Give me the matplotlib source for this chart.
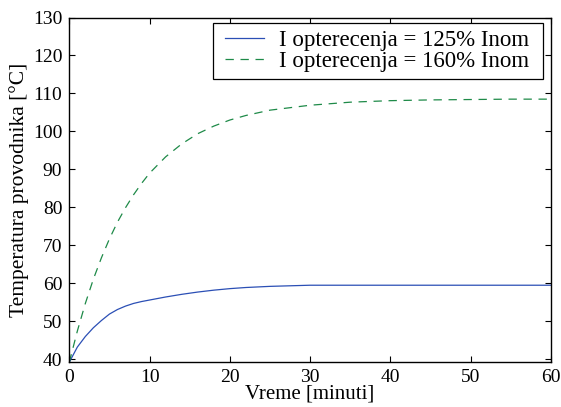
import matplotlib
matplotlib.use("Agg")
import matplotlib.pyplot as plt
from matplotlib.legend_handler import HandlerLine2D
from matplotlib.path import Path

plt.rcParams['font.family'] = ['Liberation Serif', 'DejaVu Serif']
plt.rcParams['lines.scale_dashes'] = False

# time in minutes
t = [0, 1, 2, 3, 4, 5, 6, 7, 8, 9, 10, 12, 14, 16, 18, 20, 22, 25,
     30, 35, 40, 45, 50, 55, 60]

# conductor temperature at 125% nominal load current
temp_125 = [39.2, 43.2, 46.0, 48.3, 50.2, 51.9, 53.1, 54.0, 54.7, 55.2, 55.6,
            56.4, 57.1, 57.7, 58.2, 58.6, 58.9, 59.2, 59.5, 59.5, 59.5,
            59.5, 59.5, 59.5, 59.5]

# conductor temperature at 160% nominal load current
temp_160 = [39.2, 47.4, 54.7, 61.1, 66.7, 71.7, 76.1, 79.9, 83.3, 86.3, 89.0,
            93.3, 96.7, 99.4, 101.4, 103.0, 104.2, 105.6, 106.9, 107.7, 108.1,
            108.3, 108.4, 108.5, 108.5]

labels = ['I opterecenja = 125% Inom', 'I opterecenja = 160% Inom']
xticks = [0, 10, 20, 30, 40, 50, 60]
yticks = [40, 50, 60, 70, 80, 90, 100, 110, 120, 130]

W, H = 561, 407
fig = plt.figure(figsize=(W / 100, H / 100), dpi=100)
ax = fig.add_axes([0.1235, 0.1098, 0.9820 - 0.1235, 0.957 - 0.1098])

l1, = ax.plot(t, temp_125, color='#2b4fb5', lw=0.9, label=labels[0])
l2, = ax.plot(t, temp_160, color='#1e8a48', lw=0.9, dashes=(6.0, 4.8),
              label=labels[1])

ax.set_xlim(0, 60)
ax.set_ylim(39.2, 130)
ax.set_xticks(xticks)
ax.set_yticks(yticks)
ax.tick_params(direction='in', top=True, right=True, length=4, width=0.8,
               labelsize=14, colors='black')
ax.tick_params(axis='x', pad=5)
ax.tick_params(axis='y', pad=5)
for s in ax.spines.values():
    s.set_linewidth(1.0)

ax.set_xlabel('Vreme [minuti]', fontsize=15, labelpad=-1.0)
ax.set_ylabel('Temperatura provodnika [°C]', fontsize=15.5, labelpad=3)


# legend frame with extra room on the right-hand side
RIGHT_EXTRA = 7.0


def wide_frame(x0, y0, width, height, mutation_size):
    x1 = x0 + width + RIGHT_EXTRA
    y1 = y0 + height
    return Path([(x0, y0), (x1, y0), (x1, y1), (x0, y1), (x0, y0)],
                closed=True)


fs = 16.5
handler = HandlerLine2D(xpad=0.22)
leg = ax.legend(handles=[l1, l2], loc='upper right', fontsize=fs,
                frameon=True, fancybox=False, edgecolor='black',
                framealpha=1, borderpad=0.3, handlelength=1.95,
                handletextpad=0.62, labelspacing=0.0, borderaxespad=0,
                bbox_to_anchor=((542.7 - RIGHT_EXTRA) / W, 1 - 23.3 / H),
                bbox_transform=fig.transFigure,
                handler_map={l1: handler, l2: handler})
leg.get_frame().set_boxstyle(wide_frame)
leg.get_frame().set_linewidth(0.9)

fig.savefig('out.png', dpi=100)
